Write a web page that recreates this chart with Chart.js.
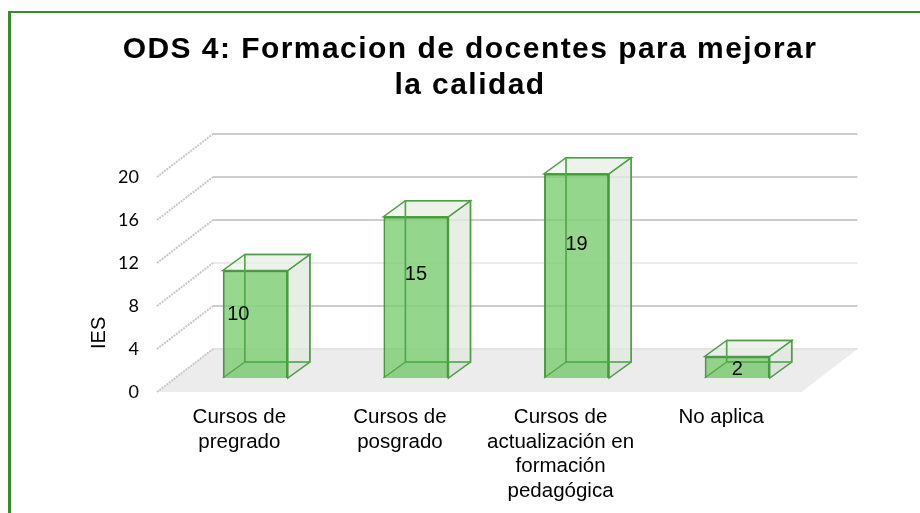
<!DOCTYPE html>
<html>
<head>
<meta charset="utf-8">
<script src="https://cdn.jsdelivr.net/npm/chart.js@4.4.1/dist/chart.umd.min.js"></script>
<style>
  html, body { margin: 0; padding: 0; background: #fff; overflow: hidden; }
  #frame { position: absolute; left: 8px; top: 11px; right: 0; bottom: 0; border-top: 2px solid #3b8a2e; border-left: 3px solid #3b8a2e; }
  #wrap { position: absolute; left: 0; top: 0; width: 920px; height: 513px; }
</style>
</head>
<body>
<div id="frame"></div>
<div id="wrap"><canvas id="chart"></canvas></div>
<script>
const titleLines = ["ODS 4: Formacion de docentes para mejorar", "la calidad"];
const categories = [
  ["Cursos de", "pregrado"],
  ["Cursos de", "posgrado"],
  ["Cursos de", "actualización en", "formación", "pedagógica"],
  ["No aplica"],
];
const values = [10, 15, 19, 2];
const yAxisTitle = "IES";

// fake perspective, in px
const WALL = { dx: 56, dy: -43 };
const BAR_PLANE = { dx: 16, dy: -14 };
const BAR_DEPTH = { dx: 22, dy: -16 };
const LABEL_SHIFT = [[-17, -10], [0, -23], [0, -31], [0, 2]];
const FLOOR_LEFT_INSET = 2;
const TITLE_CENTER = 470;

const EDGE = "#4f9e47";

function poly(ctx, pts, fill, stroke) {
  ctx.beginPath();
  pts.forEach((p, i) => (i ? ctx.lineTo(p[0], p[1]) : ctx.moveTo(p[0], p[1])));
  ctx.closePath();
  if (fill) { ctx.fillStyle = fill; ctx.fill(); }
  if (stroke) { ctx.strokeStyle = stroke; ctx.lineWidth = 1.5; ctx.stroke(); }
}

const scene3d = {
  id: "scene3d",
  afterLayout(chart) {
    // title is centred on the whole picture and tracked out, Chart.js has no option for either
    const block = chart.titleBlock;
    block.left = 0;
    block.right = TITLE_CENTER * 2;
    if (!block.__tracked) {
      const draw = block.draw.bind(block);
      block.draw = () => {
        chart.ctx.letterSpacing = "1.45px";
        draw();
        chart.ctx.letterSpacing = "0px";
      };
      block.__tracked = true;
    }
  },
  beforeDatasetsDraw(chart) {
    const { ctx, chartArea: a, scales: { y } } = chart;
    const base = y.getPixelForValue(0);
    const left = a.left - FLOOR_LEFT_INSET;
    ctx.save();
    poly(ctx, [
      [left, base], [a.right, base],
      [a.right + WALL.dx, base + WALL.dy], [left + WALL.dx, base + WALL.dy],
    ], "#ececec");
    y.ticks.forEach((t) => {
      const py = y.getPixelForValue(t.value);
      ctx.lineWidth = 2;
      ctx.strokeStyle = t.value === 0 ? "#e2e2e2" : t.value === 8 ? "#ebebeb" : "#cdcdcd";
      ctx.beginPath();
      ctx.moveTo(left + WALL.dx, py + WALL.dy);
      ctx.lineTo(a.right + WALL.dx, py + WALL.dy);
      ctx.stroke();
      ctx.strokeStyle = "#c8c8c8";
      ctx.setLineDash([2, 1]);
      ctx.beginPath();
      ctx.moveTo(left, py);
      ctx.lineTo(left + WALL.dx, py + WALL.dy);
      ctx.stroke();
      ctx.setLineDash([]);
    });
    ctx.restore();
  },
  beforeDatasetDraw(chart, args) {
    const { ctx } = chart;
    ctx.save();
    ctx.translate(BAR_PLANE.dx, BAR_PLANE.dy);
    args.meta.data.forEach((bar) => {
      const l = bar.x - bar.width / 2, r = bar.x + bar.width / 2;
      const t = bar.y, b = bar.base;
      const d = BAR_DEPTH;
      // floor of the box, back wall, right side, lid
      poly(ctx, [[l, b], [r, b], [r + d.dx, b + d.dy], [l + d.dx, b + d.dy]], "rgba(110,140,110,0.16)");
      poly(ctx, [[l + d.dx, t + d.dy], [r + d.dx, t + d.dy], [r + d.dx, b + d.dy], [l + d.dx, b + d.dy]], "rgba(232,240,230,0.5)", EDGE);
      poly(ctx, [[r, t], [r + d.dx, t + d.dy], [r + d.dx, b + d.dy], [r, b]], "rgba(222,231,220,0.6)", EDGE);
      poly(ctx, [[l, t], [r, t], [r + d.dx, t + d.dy], [l + d.dx, t + d.dy]], "rgba(232,240,230,0.5)", EDGE);
    });
  },
  afterDatasetDraw(chart, args) {
    const { ctx } = chart;
    // hidden edges show through the front face
    args.meta.data.forEach((bar) => {
      const l = bar.x - bar.width / 2, r = bar.x + bar.width / 2;
      const t = bar.y, b = bar.base;
      const d = BAR_DEPTH;
      ctx.strokeStyle = "#52a84a";
      ctx.lineWidth = 1.5;
      ctx.beginPath();
      ctx.moveTo(l + d.dx, t + d.dy);
      ctx.lineTo(l + d.dx, b + d.dy);
      ctx.lineTo(r + d.dx, b + d.dy);
      ctx.moveTo(l, b);
      ctx.lineTo(l + d.dx, b + d.dy);
      ctx.stroke();
    });
    ctx.restore();
  },
  afterDatasetsDraw(chart) {
    const { ctx, scales: { y } } = chart;
    const meta = chart.getDatasetMeta(0);
    ctx.save();
    ctx.fillStyle = "#000";
    ctx.font = '20px "Liberation Sans"';
    ctx.textAlign = "center";
    ctx.textBaseline = "middle";
    meta.data.forEach((bar, i) => {
      const cx = bar.x + BAR_PLANE.dx + LABEL_SHIFT[i][0];
      const cy = (bar.y + bar.base) / 2 + BAR_PLANE.dy + LABEL_SHIFT[i][1];
      ctx.fillText(String(values[i]), cx, cy);
    });
    // axis title sits low on this chart, the scale option can only centre it
    ctx.translate(99, y.getPixelForValue(5.5));
    ctx.rotate(-Math.PI / 2);
    ctx.fillText(yAxisTitle, 0, 0);
    ctx.restore();
  },
};

new Chart(document.getElementById("chart"), {
  type: "bar",
  data: {
    labels: categories,
    datasets: [{
      data: values,
      backgroundColor: "rgba(116,203,106,0.75)",
      borderColor: "#459a3c",
      borderWidth: 2,
      barPercentage: 0.405,
      categoryPercentage: 1,
      clip: false,
    }],
  },
  options: {
    responsive: true,
    maintainAspectRatio: false,
    animation: false,
    layout: { padding: { left: 0, right: 118.5, top: 0, bottom: 0 } },
    plugins: {
      legend: { display: false },
      tooltip: { enabled: false },
      title: {
        display: true,
        text: titleLines,
        color: "#000",
        font: { family: '"Liberation Sans"', size: 30, weight: "bold", lineHeight: 1.2 },
        padding: { top: 32, bottom: 73 },
      },
    },
    scales: {
      x: {
        grid: { display: false },
        border: { display: false },
        afterFit: (s) => { s.height = 121; },
        ticks: {
          color: "#000",
          padding: 5,
          autoSkip: false,
          maxRotation: 0,
          font: { family: '"Liberation Sans"', size: 20.5, lineHeight: 1.2 },
        },
      },
      y: {
        min: 0,
        max: 20,
        grid: { display: false },
        border: { display: false },
        afterFit: (s) => { s.width = 159; },
        ticks: {
          stepSize: 4,
          color: "#000",
          padding: 12,
          font: { family: 'Lato', size: 18 },
        },
      },
    },
  },
  plugins: [scene3d],
});
</script>
</body>
</html>
